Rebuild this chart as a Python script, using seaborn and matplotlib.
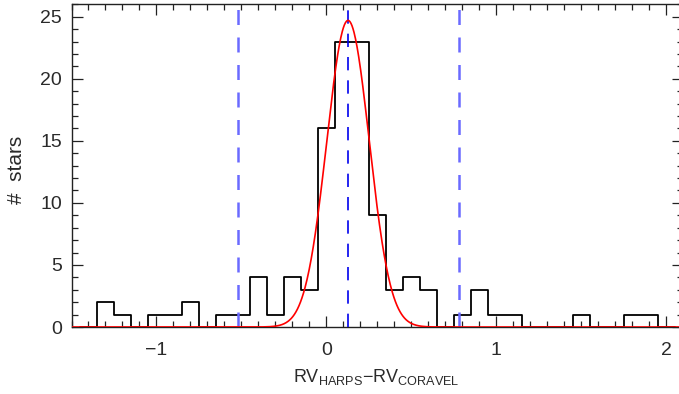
import numpy as np
import pandas as pd
import matplotlib
matplotlib.use("Agg")
import matplotlib.pyplot as plt
from matplotlib.ticker import MultipleLocator
import seaborn as sns

# ---- data ----
bin_centers = [-1.4, -1.3, -1.2, -1.1, -1.0, -0.9, -0.8, -0.7, -0.6, -0.5, -0.4,
               -0.3, -0.2, -0.1, 0.0, 0.1, 0.2, 0.3, 0.4, 0.5, 0.6,
               0.7, 0.8, 0.9, 1.0, 1.1, 1.2, 1.3, 1.4, 1.5, 1.6,
               1.7, 1.8, 1.9, 2.0]
counts = [0, 2, 1, 0, 1, 1, 2, 0, 1, 1, 4,
          1, 4, 3, 16, 23, 23, 9, 3, 4, 3,
          0, 1, 3, 1, 1, 0, 0, 0, 1, 0,
          0, 1, 1, 0]
bin_width = 0.1

gauss_amp = 24.7
gauss_mu = 0.128
gauss_sigma = 0.125

limit_lines = [-0.52, 0.78]

x_range = (-1.5, 2.1)
y_range = (0, 26)

# ---- figure ----
sns.set_style("ticks")
plt.rcParams["font.family"] = ["Liberation Sans", "DejaVu Sans"]
plt.rcParams["mathtext.fontset"] = "custom"
plt.rcParams["mathtext.rm"] = "Liberation Sans"
plt.rcParams["mathtext.it"] = "Liberation Sans"

W, H = 679, 394
fig = plt.figure(figsize=(W / 100, H / 100), dpi=100)
ax = fig.add_axes([71.5 / W, (H - 327) / H, (683 - 71.5) / W, (327 - 4.3) / H])

df = pd.DataFrame({"x": bin_centers, "n": counts})
lo = bin_centers[0] - bin_width / 2
hi = bin_centers[-1] + bin_width / 2
sns.histplot(data=df, x="x", weights="n", binwidth=bin_width, binrange=(lo, hi),
             element="step", fill=False, color="black", linewidth=1.3, ax=ax)

xg = np.linspace(x_range[0], x_range[1], 1200)
yg = gauss_amp * np.exp(-0.5 * ((xg - gauss_mu) / gauss_sigma) ** 2)
sns.lineplot(x=xg, y=yg, color="red", linewidth=1.2, ax=ax, zorder=5)

ax.axvline(gauss_mu, color="#0000ee", linewidth=1.2, linestyle=(0, (8, 6)), zorder=4)
for xv in limit_lines:
    ax.axvline(xv, color="#6a6aff", linewidth=1.8, linestyle=(0, (6, 5)), zorder=4)

ax.set_xlim(*x_range)
ax.set_ylim(*y_range)
ax.xaxis.set_major_locator(MultipleLocator(1))
ax.xaxis.set_minor_locator(MultipleLocator(0.1))
ax.yaxis.set_major_locator(MultipleLocator(5))
ax.yaxis.set_minor_locator(MultipleLocator(1))
ax.tick_params(which="both", direction="in", top=True, right=True,
               colors="#222222", labelcolor="#2a2a2a", labelsize=14, width=0.9)
ax.tick_params(which="major", length=8)
ax.tick_params(which="minor", length=4)
ax.tick_params(axis="x", which="major", pad=11)
ax.tick_params(axis="y", which="major", pad=7)
for s in ax.spines.values():
    s.set_color("#222222")
    s.set_linewidth(1.0)

ax.set_xlabel("")
ax.set_ylabel("")
fig.text(376 / W, 1 - 382 / H, r"RV$_{\mathrm{HARPS}}$$-$RV$_{\mathrm{CORAVEL}}$",
         fontsize=13, color="#2a2a2a", ha="center", va="baseline")
fig.text(16 / W, 1 - 170 / H, "#  stars", fontsize=15, color="#2a2a2a",
         ha="center", va="center", rotation=90)

fig.savefig("out.png", dpi=100)
